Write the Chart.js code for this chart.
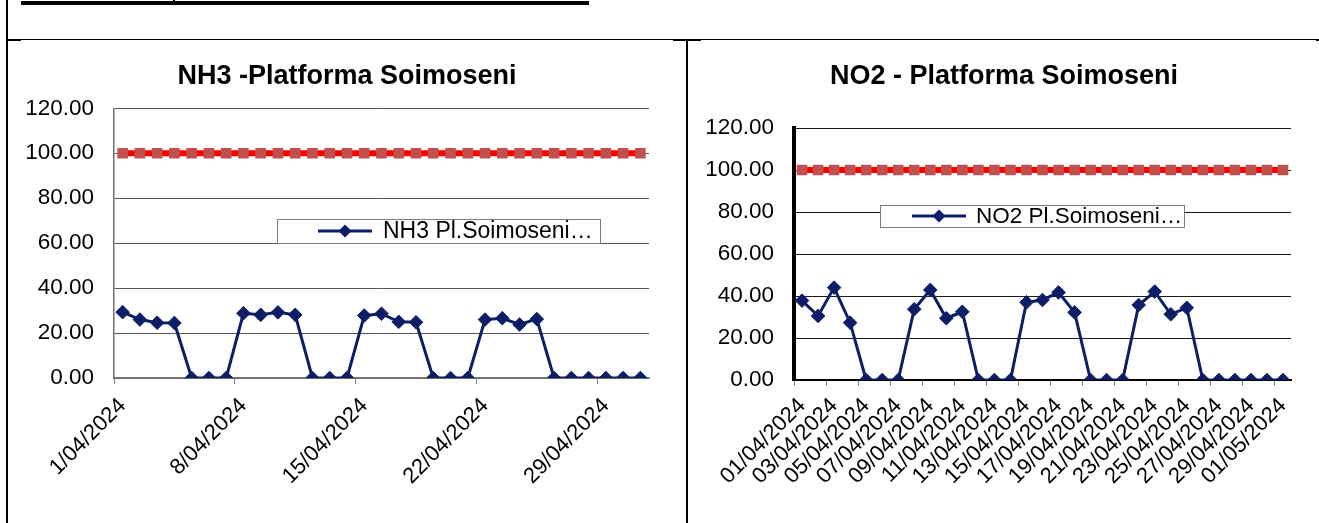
<!DOCTYPE html>
<html>
<head>
<meta charset="utf-8">
<script src="https://cdn.jsdelivr.net/npm/chart.js@4.4.1/dist/chart.umd.min.js"></script>
<style>
  html, body { margin: 0; padding: 0; background: #fff; }
  #root { position: relative; width: 1319px; height: 523px; overflow: hidden; background: #fff; }
  .ln { position: absolute; background: #000; }
  .cw { position: absolute; }
</style>
</head>
<body>
<div id="root">
  <div class="ln" style="left:21px;top:1px;width:568px;height:3.5px;"></div>
  <div class="ln" style="left:173px;top:0px;width:1.5px;height:5px;"></div>
  <div class="ln" style="left:6px;top:0px;width:2px;height:523px;"></div>
  <div class="ln" style="left:6px;top:39px;width:1313px;height:1.3px;"></div>
  <div class="ln" style="left:7px;top:39px;width:14px;height:2px;"></div>
  <div class="ln" style="left:686px;top:39px;width:2.3px;height:484px;"></div>
  <div class="ln" style="left:673px;top:39px;width:28px;height:1.7px;"></div>
  <div class="ln" style="left:1316px;top:39px;width:3px;height:1.7px;"></div>
  <div class="cw" style="left:8px;top:41px;width:678px;height:482px;"><canvas id="c1"></canvas></div>
  <div class="cw" style="left:689px;top:41px;width:630px;height:482px;"><canvas id="c2"></canvas></div>
</div>
<script>
// ---------------- DATA ----------------
const nh3Dates = ['1/04/2024','2/04/2024','3/04/2024','4/04/2024','5/04/2024','6/04/2024','7/04/2024',
  '8/04/2024','9/04/2024','10/04/2024','11/04/2024','12/04/2024','13/04/2024','14/04/2024',
  '15/04/2024','16/04/2024','17/04/2024','18/04/2024','19/04/2024','20/04/2024','21/04/2024',
  '22/04/2024','23/04/2024','24/04/2024','25/04/2024','26/04/2024','27/04/2024','28/04/2024',
  '29/04/2024','30/04/2024','1/05/2024'];
const no2Dates = ['01/04/2024','02/04/2024','03/04/2024','04/04/2024','05/04/2024','06/04/2024','07/04/2024',
  '08/04/2024','09/04/2024','10/04/2024','11/04/2024','12/04/2024','13/04/2024','14/04/2024',
  '15/04/2024','16/04/2024','17/04/2024','18/04/2024','19/04/2024','20/04/2024','21/04/2024',
  '22/04/2024','23/04/2024','24/04/2024','25/04/2024','26/04/2024','27/04/2024','28/04/2024',
  '29/04/2024','30/04/2024','01/05/2024'];
const nh3Values = [29.3, 26.0, 24.6, 24.5, 0, 0, 0,
  28.8, 28.1, 29.2, 28.1, 0, 0, 0,
  27.8, 28.6, 25.0, 24.8, 0, 0, 0,
  26.0, 26.6, 23.8, 26.2, 0, 0, 0,
  0, 0, 0];
const no2Values = [37.8, 30.5, 44.0, 27.3, 0, 0, 0,
  33.7, 42.9, 29.4, 32.5, 0, 0, 0,
  37.0, 38.1, 41.7, 32.2, 0, 0, 0,
  35.7, 42.1, 31.3, 34.4, 0, 0, 0,
  0, 0, 0];
const limitValues = [100, 100, 100, 100, 100, 100, 100, 100, 100, 100, 100, 100, 100, 100, 100, 100,
  100, 100, 100, 100, 100, 100, 100, 100, 100, 100, 100, 100, 100, 100, 100];
const nh3Title = 'NH3 -Platforma Soimoseni';
const no2Title = 'NO2 - Platforma Soimoseni';
const nh3Legend = 'NH3 Pl.Soimoseni…';
const no2Legend = 'NO2 Pl.Soimoseni…';
const yMin = 0, yMax = 120, yStep = 20;

// ---------------- STYLE ----------------
const FONT = "'Liberation Sans', Arial, sans-serif";
const NAVY = '#0D1E66';

const boxLegend = {
  id: 'boxLegend',
  afterDatasetsDraw(chart, args, o) {
    const ctx = chart.ctx;
    ctx.save();
    ctx.fillStyle = '#fff';
    ctx.fillRect(o.x, o.y, o.w, o.h);
    ctx.strokeStyle = '#7f7f7f';
    ctx.lineWidth = 1;
    ctx.strokeRect(o.x + 0.5, o.y + 0.5, o.w, o.h);
    const cy = o.y + o.h / 2;
    ctx.strokeStyle = NAVY;
    ctx.lineWidth = 3;
    ctx.beginPath();
    ctx.moveTo(o.l1, cy); ctx.lineTo(o.l2, cy); ctx.stroke();
    const mx = (o.l1 + o.l2) / 2, r = 6.5;
    ctx.fillStyle = NAVY;
    ctx.beginPath();
    ctx.moveTo(mx, cy - r); ctx.lineTo(mx + r, cy); ctx.lineTo(mx, cy + r); ctx.lineTo(mx - r, cy);
    ctx.closePath(); ctx.fill();
    ctx.fillStyle = '#000';
    ctx.font = o.fontSize + 'px ' + FONT;
    ctx.textBaseline = 'middle';
    ctx.textAlign = 'left';
    ctx.fillText(chart.data.datasets[0].label, o.tx, cy + 1);
    ctx.restore();
  }
};

function makeChart(id, cfg) {
  return new Chart(document.getElementById(id), {
    type: 'line',
    data: {
      labels: cfg.labels,
      datasets: [
        {
          label: cfg.legend,
          data: cfg.values,
          borderColor: NAVY,
          backgroundColor: NAVY,
          borderWidth: 3,
          pointStyle: 'rectRot',
          pointRadius: 6.8,
          pointBorderWidth: 1,
          pointBackgroundColor: NAVY,
          pointBorderColor: NAVY,
          tension: 0,
          order: 1
        },
        {
          label: 'limit',
          data: limitValues,
          borderColor: '#FF0000',
          borderWidth: 6,
          pointStyle: 'rect',
          pointRadius: 7.5,
          pointBorderWidth: 0,
          pointBackgroundColor: '#C0504D',
          pointBorderColor: '#C0504D',
          tension: 0,
          order: 2
        }
      ]
    },
    options: {
      responsive: true,
      maintainAspectRatio: false,
      animation: false,
      layout: { padding: 0 },
      plugins: {
        legend: { display: false },
        tooltip: { enabled: false },
        title: {
          display: true,
          text: cfg.title,
          color: '#000',
          font: { family: FONT, size: 27, weight: 'bold', lineHeight: 1.2 },
          padding: { top: 19.8, bottom: cfg.titleBottom }
        },
        boxLegend: cfg.legendBox
      },
      scales: {
        x: {
          type: 'category',
          offset: true,
          grid: {
            offset: true,
            drawOnChartArea: false,
            drawTicks: true,
            tickLength: 6,
            lineWidth: 1,
            color: (c) => (c.index % cfg.every === 0 && c.index < cfg.labels.length) ? cfg.tickColor : 'rgba(0,0,0,0)'
          },
          border: { display: true, color: cfg.xBorderColor, width: cfg.xBorderWidth },
          ticks: {
            autoSkip: false,
            maxRotation: 45,
            minRotation: 45,
            padding: cfg.xPad,
            color: '#000',
            font: { family: FONT, size: 22 },
            callback: (v, i) => (i % cfg.every === 0 ? cfg.labels[i] : '')
          },
          afterFit: (s) => { s.height = cfg.xHeight; }
        },
        y: {
          min: yMin,
          max: yMax,
          grid: {
            drawTicks: false,
            color: cfg.gridColor,
            lineWidth: 1
          },
          border: { display: true, color: cfg.yBorderColor, width: cfg.yBorderWidth },
          ticks: {
            stepSize: yStep,
            padding: 20,
            color: '#000',
            font: { family: FONT, size: 22.5 },
            callback: (v) => Number(v).toFixed(2)
          },
          afterFit: (s) => { s.width = cfg.yWidth; }
        },
        spacer: {
          type: 'linear',
          position: 'right',
          display: true,
          grid: { display: false, drawTicks: false },
          border: { display: false },
          ticks: { display: false },
          afterFit: (s) => { s.width = cfg.padRight; }
        }
      }
    },
    plugins: [boxLegend]
  });
}

makeChart('c1', {
  labels: nh3Dates, values: nh3Values, legend: nh3Legend, title: nh3Title,
  every: 7, padRight: 37, titleBottom: 15.1, xHeight: 145, yWidth: 106, xPad: 9,
  tickColor: '#808080', xBorderColor: '#808080', xBorderWidth: 1.5,
  gridColor: '#555555', yBorderColor: '#707070', yBorderWidth: 1.5,
  legendBox: { x: 269, y: 178, w: 323, h: 24, l1: 310, l2: 364, tx: 375, fontSize: 23 }
});

makeChart('c2', {
  labels: no2Dates, values: no2Values, legend: no2Legend, title: no2Title,
  every: 2, padRight: 28, titleBottom: 34.8, xHeight: 143, yWidth: 105, xPad: 7,
  tickColor: '#808080', xBorderColor: '#000', xBorderWidth: 2,
  gridColor: '#1a1a1a', yBorderColor: '#000', yBorderWidth: 4,
  legendBox: { x: 191, y: 164, w: 304, h: 22, l1: 223, l2: 277, tx: 287, fontSize: 22.5 }
});
</script>
</body>
</html>
